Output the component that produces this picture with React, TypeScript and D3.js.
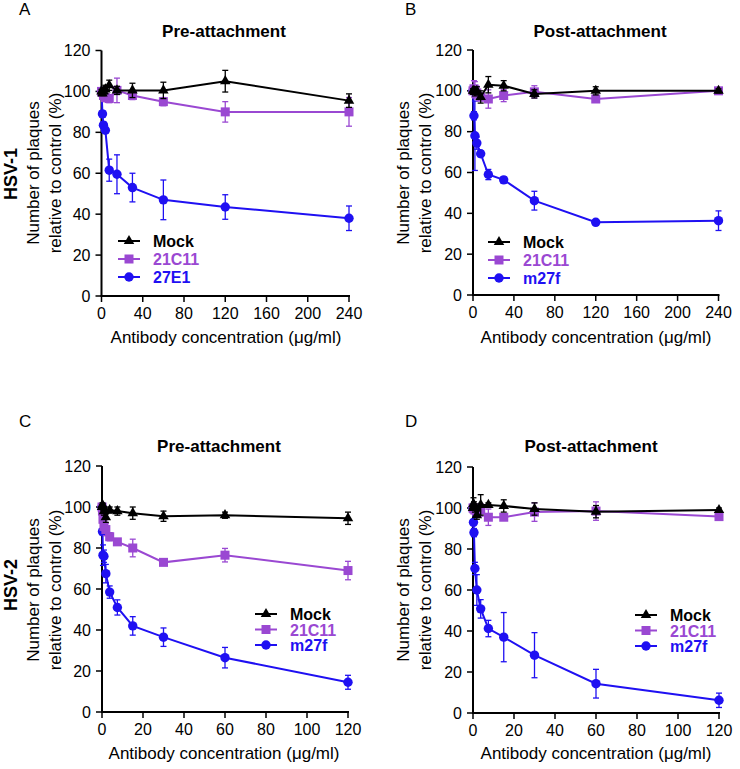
import React from "react";
import * as d3 from "d3";

// ---------- Data ----------
const xHSV1 = [0, 0.94, 1.875, 3.75, 7.5, 15, 30, 60, 120, 240];
const xHSV2 = [0, 0.23, 0.47, 0.94, 1.875, 3.75, 7.5, 15, 30, 60, 120];

// Panel A (HSV-1, pre-attachment)
const aMock = [100, 99, 100, 101, 103, 100.5, 100.5, 100.5, 105, 95.5];
const aMockErr = [1, 1, 2, 2, 2.5, 2, 3.5, 4, 5.3, 3.3];
const a21C11 = [100, 99.5, 98, 97, 96.5, 100.5, 98, 95, 90, 90];
const a21C11Err = [1, 1, 1, 2, 2, 6, 2, 2, 5, 7];
const a27E1 = [100, 89, 83.5, 81, 61.5, 59.5, 53, 47, 43.5, 38];
const a27E1Err = [0, 1.5, 1.5, 1.5, 5.4, 9.5, 7, 9.7, 6, 6];

// Panel B (HSV-1, post-attachment)
const bMock = [100, 100, 99.5, 100, 97, 103, 102.5, 98.5, 100, 100];
const bMockErr = [1, 1, 2, 2, 3, 4, 2.5, 2, 2, 1];
const b21C11 = [100, 101, 100.5, 99, 97, 96, 97.7, 99.5, 96, 100];
const b21C11Err = [1, 4, 4, 3, 2, 4.5, 3, 3, 1, 1];
const bM27f = [100, 87.8, 78, 74.4, 69.2, 59, 56.4, 46.2, 35.6, 36.4];
const bM27fErr = [0, 2, 17, 3, 1.5, 2.5, 1.5, 4.6, 1, 4.8];

// Panel C (HSV-2, pre-attachment)
const cMock = [100, 101, 100, 98, 95, 98.5, 98, 97, 95.5, 96, 94.5];
const cMockErr = [1, 1, 1.5, 2, 2.5, 1.5, 2, 3, 2.5, 1.5, 3];
const c21C11 = [100, 98, 94, 90.5, 89, 85.5, 83, 80, 73, 76.5, 69];
const c21C11Err = [1, 2, 2, 2, 3, 2, 1.5, 4.3, 1.5, 3.3, 4.5];
const cM27f = [100, 88, 76.5, 76, 67.5, 58.5, 51, 42, 36.5, 26.5, 14.5];
const cM27fErr = [0, 1.5, 5, 3, 4.5, 3, 3.7, 4.5, 4.5, 5, 3.4];

// Panel D (HSV-2, post-attachment)
const dMock = [100, 102, 101, 100, 96.5, 101.5, 101.5, 101, 99.5, 98.2, 99];
const dMockErr = [1, 3, 2, 2, 2, 5, 1, 3, 3, 3, 1];
const d21C11 = [100, 100, 99.5, 99, 98, 99, 95.5, 95.5, 98, 98.5, 95.8];
const d21C11Err = [1, 1, 2, 2, 2, 3, 4, 1.5, 4.5, 4.5, 1];
const dM27f = [100, 93, 88, 70.5, 60, 50.8, 41.2, 37, 28.2, 14.3, 6.2];
const dM27fErr = [0, 1, 2, 3, 7.5, 4.5, 4, 12, 11, 7, 3.5];

const yTicks = [0, 20, 40, 60, 80, 100, 120];
const xTicksHSV1 = [0, 40, 80, 120, 160, 200, 240];
const xTicksHSV2 = [0, 20, 40, 60, 80, 100, 120];

const BLACK = "#000000";
const PURPLE = "#9a48d2";
const BLUE = "#1f10f2";
const FONT = "Arial, 'Liberation Sans', Helvetica, sans-serif";

type Series = {
  name: string;
  color: string;
  shape: "triangle" | "square" | "circle";
  y: number[];
  err: number[];
};

type PanelProps = {
  letter: string;
  letterPos: [number, number];
  title: string;
  titleX: number;
  titleY: number;
  virus?: string;
  virusY?: number;
  x0: number;
  x1: number;
  yTop: number;
  yBottom: number;
  xMax: number;
  xTicks: number[];
  xs: number[];
  series: Series[];
  legendX: number;
  legendY: number;
  legendStep: number;
  ylabX: number;
  ylabCY: number;
  xlabCX: number;
  xlabY: number;
};

function Marker({ shape, cx, cy, color }: { shape: string; cx: number; cy: number; color: string }) {
  if (shape === "triangle") {
    const s = d3.symbol().type(d3.symbolTriangle).size(48)();
    return <path d={s || ""} transform={`translate(${cx},${cy})`} fill={color} />;
  }
  if (shape === "square") {
    return <rect x={cx - 4.5} y={cy - 4.5} width={9} height={9} fill={color} />;
  }
  return <circle cx={cx} cy={cy} r={4.7} fill={color} />;
}

function Panel(p: PanelProps) {
  const xs = d3.scaleLinear().domain([0, p.xMax]).range([p.x0, p.x1]);
  const ys = d3.scaleLinear().domain([0, 120]).range([p.yBottom, p.yTop]);
  const line = d3
    .line<[number, number]>()
    .x((d) => xs(d[0]))
    .y((d) => ys(d[1]));
  const order = [...p.series].reverse();
  return (
    <g fontFamily={FONT}>
      <text x={p.letterPos[0]} y={p.letterPos[1]} fontSize={17} fill="#000">
        {p.letter}
      </text>
      <text x={p.titleX} y={p.titleY} fontSize={17} fontWeight="bold" textAnchor="middle">
        {p.title}
      </text>
      {p.virus && (
        <text
          transform={`translate(17,${p.virusY}) rotate(-90)`}
          fontSize={18}
          fontWeight="bold"
          textAnchor="middle"
        >
          {p.virus}
        </text>
      )}
      <text
        transform={`translate(${p.ylabX},${p.ylabCY}) rotate(-90)`}
        fontSize={17}
        textAnchor="middle"
      >
        <tspan x={0} dy={0}>Number of plaques</tspan>
        <tspan x={0} dy={22}>relative to control (%)</tspan>
      </text>
      <text x={p.xlabCX} y={p.xlabY} fontSize={17} textAnchor="middle">
        Antibody concentration (μg/ml)
      </text>
      {/* axes */}
      <line x1={p.x0} x2={p.x0} y1={ys(120)} y2={ys(0)} stroke="#000" strokeWidth={2} />
      <line x1={p.x0 - 1} x2={xs(p.xMax) + 1} y1={ys(0)} y2={ys(0)} stroke="#000" strokeWidth={2} />
      {yTicks.map((t) => (
        <g key={"y" + t}>
          <line x1={p.x0 - 6} x2={p.x0} y1={ys(t)} y2={ys(t)} stroke="#000" strokeWidth={1.5} />
          <text x={p.x0 - 11} y={ys(t) + 5.5} fontSize={16} textAnchor="end">
            {t}
          </text>
        </g>
      ))}
      {p.xTicks.map((t) => (
        <g key={"x" + t}>
          <line x1={xs(t)} x2={xs(t)} y1={ys(0)} y2={ys(0) + 6} stroke="#000" strokeWidth={1.5} />
          <text x={xs(t)} y={ys(0) + 23} fontSize={16} textAnchor="middle">
            {t}
          </text>
        </g>
      ))}
      {/* series */}
      {order.map((s) => {
        const pts: [number, number][] = p.xs.map((x, i) => [x, s.y[i]]);
        return (
          <g key={s.name}>
            <path d={line(pts) || ""} fill="none" stroke={s.color} strokeWidth={2} />
            {p.xs.map((x, i) =>
              s.err[i] > 0 ? (
                <g key={i} stroke={s.color} strokeWidth={1.3}>
                  <line x1={xs(x)} x2={xs(x)} y1={ys(s.y[i] - s.err[i])} y2={ys(s.y[i] + s.err[i])} />
                  <line x1={xs(x) - 3} x2={xs(x) + 3} y1={ys(s.y[i] - s.err[i])} y2={ys(s.y[i] - s.err[i])} />
                  <line x1={xs(x) - 3} x2={xs(x) + 3} y1={ys(s.y[i] + s.err[i])} y2={ys(s.y[i] + s.err[i])} />
                </g>
              ) : null
            )}
            {p.xs.map((x, i) => (
              <Marker key={"m" + i} shape={s.shape} cx={xs(x)} cy={ys(s.y[i])} color={s.color} />
            ))}
          </g>
        );
      })}
      {/* legend */}
      {p.series.map((s, i) => {
        const cy = p.legendY + i * p.legendStep;
        return (
          <g key={"lg" + s.name}>
            <line x1={p.legendX} x2={p.legendX + 22} y1={cy} y2={cy} stroke={s.color} strokeWidth={2} />
            <Marker shape={s.shape} cx={p.legendX + 11} cy={cy} color={s.color} />
            <text x={p.legendX + 35} y={cy + 6} fontSize={16} fontWeight="bold" fill={s.color}>
              {s.name}
            </text>
          </g>
        );
      })}
    </g>
  );
}

export default function App() {
  const mk = (y1: number[], e1: number[], y2: number[], e2: number[], y3: number[], e3: number[], n3: string): Series[] => [
    { name: "Mock", color: BLACK, shape: "triangle", y: y1, err: e1 },
    { name: "21C11", color: PURPLE, shape: "square", y: y2, err: e2 },
    { name: n3, color: BLUE, shape: "circle", y: y3, err: e3 },
  ];
  return (
    <svg
      width={740}
      height={769}
      style={{ position: "absolute", left: 0, top: 0, background: "#fff" }}
    >
      <rect width={740} height={769} fill="#fff" />
      <Panel
        letter="A"
        letterPos={[19, 15]}
        title="Pre-attachment"
        titleX={224}
        titleY={37}
        virus="HSV-1"
        virusY={174}
        x0={101.5}
        x1={349}
        yTop={50.5}
        yBottom={296}
        xMax={240}
        xTicks={xTicksHSV1}
        xs={xHSV1}
        series={mk(aMock, aMockErr, a21C11, a21C11Err, a27E1, a27E1Err, "27E1")}
        legendX={118}
        legendY={241}
        legendStep={18}
        ylabX={39}
        ylabCY={173}
        xlabCX={226}
        xlabY={343}
      />
      <Panel
        letter="B"
        letterPos={[405, 15]}
        title="Post-attachment"
        titleX={600}
        titleY={37}
        x0={473}
        x1={718.5}
        yTop={50}
        yBottom={295}
        xMax={240}
        xTicks={xTicksHSV1}
        xs={xHSV1}
        series={mk(bMock, bMockErr, b21C11, b21C11Err, bM27f, bM27fErr, "m27f")}
        legendX={488}
        legendY={242}
        legendStep={18}
        ylabX={409}
        ylabCY={173}
        xlabCX={596}
        xlabY={343}
      />
      <Panel
        letter="C"
        letterPos={[19, 427]}
        title="Pre-attachment"
        titleX={219}
        titleY={452}
        virus="HSV-2"
        virusY={585}
        x0={102}
        x1={348}
        yTop={466}
        yBottom={712}
        xMax={120}
        xTicks={xTicksHSV2}
        xs={xHSV2}
        series={mk(cMock, cMockErr, c21C11, c21C11Err, cM27f, cM27fErr, "m27f")}
        legendX={255}
        legendY={614}
        legendStep={15.5}
        ylabX={39}
        ylabCY={590}
        xlabCX={224}
        xlabY={759}
      />
      <Panel
        letter="D"
        letterPos={[405, 427]}
        title="Post-attachment"
        titleX={591}
        titleY={452}
        x0={473}
        x1={719}
        yTop={467}
        yBottom={713}
        xMax={120}
        xTicks={xTicksHSV2}
        xs={xHSV2}
        series={mk(dMock, dMockErr, d21C11, d21C11Err, dM27f, dM27fErr, "m27f")}
        legendX={635}
        legendY={615}
        legendStep={15.5}
        ylabX={409}
        ylabCY={590}
        xlabCX={596}
        xlabY={759}
      />
    </svg>
  );
}
